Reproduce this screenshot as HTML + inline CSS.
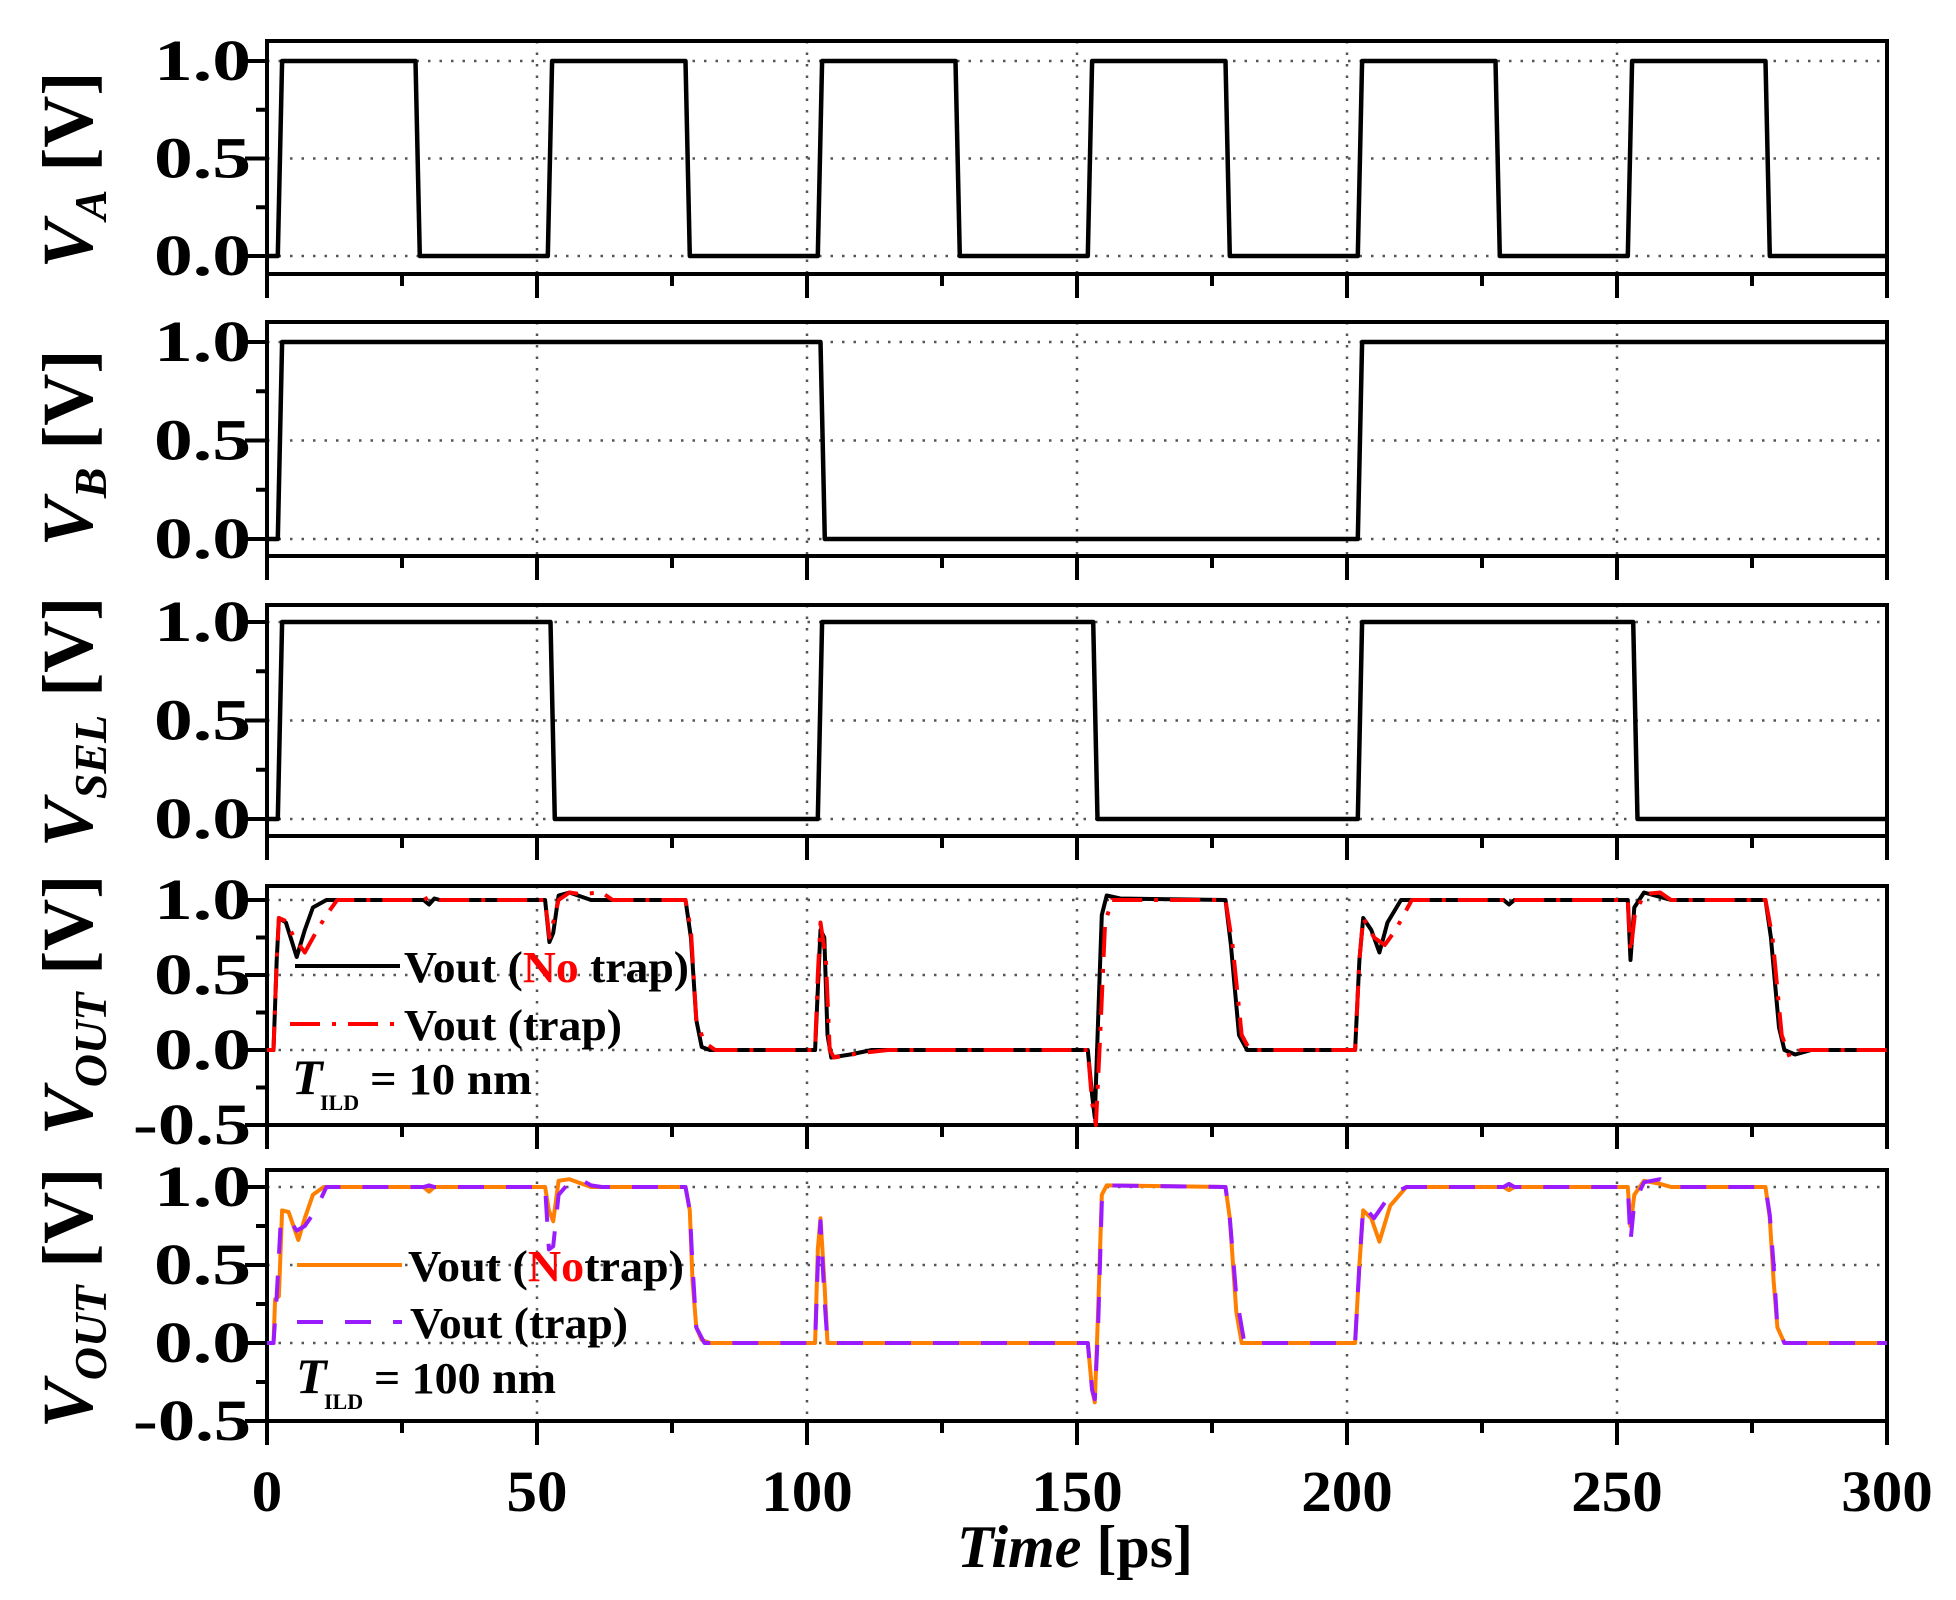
<!DOCTYPE html>
<html><head><meta charset="utf-8"><style>
html,body{margin:0;padding:0;background:#fff}
svg{display:block}
text{font-family:"Liberation Serif",serif;font-weight:bold;fill:#000}
</style></head><body>
<svg id="s" width="1956" height="1600" viewBox="0 0 1956 1600" xmlns="http://www.w3.org/2000/svg">
<g id="g"></g>
<text transform="translate(92,170) rotate(-90)" text-anchor="middle" font-size="72"><tspan font-style="italic">V</tspan><tspan font-style="italic" font-size="46" dy="14">A</tspan><tspan dy="-14"> [V]</tspan></text>
<text transform="translate(92,448) rotate(-90)" text-anchor="middle" font-size="72"><tspan font-style="italic">V</tspan><tspan font-style="italic" font-size="46" dy="14">B</tspan><tspan dy="-14"> [V]</tspan></text>
<text transform="translate(92,722) rotate(-90)" text-anchor="middle" font-size="72"><tspan font-style="italic">V</tspan><tspan font-style="italic" font-size="46" dy="14">SEL</tspan><tspan dy="-14"> [V]</tspan></text>
<text transform="translate(92,1005) rotate(-90)" text-anchor="middle" font-size="72"><tspan font-style="italic">V</tspan><tspan font-style="italic" font-size="46" dy="14">OUT</tspan><tspan dy="-14"> [V]</tspan></text>
<text transform="translate(92,1298) rotate(-90)" text-anchor="middle" font-size="72"><tspan font-style="italic">V</tspan><tspan font-style="italic" font-size="46" dy="14">OUT</tspan><tspan dy="-14"> [V]</tspan></text>
<line x1="295" y1="966" x2="400" y2="966" stroke="#000" stroke-width="4"/>
<text x="404" y="982" font-size="44" textLength="285" lengthAdjust="spacingAndGlyphs">Vout (<tspan style="fill:#ff0000">No</tspan> trap)</text>
<line x1="290" y1="1024" x2="400" y2="1024" stroke="#ff0000" stroke-width="4" stroke-dasharray="30 12 4 12"/>
<text x="404" y="1040" font-size="44" textLength="218" lengthAdjust="spacingAndGlyphs">Vout (trap)</text>
<text x="292" y="1094" font-size="50" font-style="italic">T</text>
<text x="320" y="1110" font-size="22">ILD</text>
<text x="370" y="1094" font-size="44" textLength="162" lengthAdjust="spacingAndGlyphs">= 10 nm</text>
<line x1="297" y1="1265" x2="402" y2="1265" stroke="#ff8000" stroke-width="4"/>
<text x="408" y="1281" font-size="44" textLength="276" lengthAdjust="spacingAndGlyphs">Vout (<tspan style="fill:#ff0000">No</tspan>trap)</text>
<line x1="297" y1="1322" x2="402" y2="1322" stroke="#9b1bff" stroke-width="4" stroke-dasharray="26 22"/>
<text x="410" y="1338" font-size="44" textLength="218" lengthAdjust="spacingAndGlyphs">Vout (trap)</text>
<text x="296" y="1393" font-size="50" font-style="italic">T</text>
<text x="324" y="1409" font-size="22">ILD</text>
<text x="374" y="1393" font-size="44" textLength="182" lengthAdjust="spacingAndGlyphs">= 100 nm</text>
<text x="1075" y="1567" text-anchor="middle" font-size="60"><tspan font-style="italic">Time</tspan> [ps]</text>
</svg>
<script>
var NS="http://www.w3.org/2000/svg",G=document.getElementById("g");
function el(n,a,t){var e=document.createElementNS(NS,n);for(var k in a)e.setAttribute(k,a[k]);if(t!==undefined)e.textContent=t;G.appendChild(e);return e;}
function X(t){return 267+t*5.4;}
var P=[
 {top:41,bot:274,z:256,k:195,yt:[0,0.5,1],ym:[0.25,0.75]},
 {top:322,bot:556,z:539,k:197,yt:[0,0.5,1],ym:[0.25,0.75]},
 {top:605,bot:836,z:819,k:197,yt:[0,0.5,1],ym:[0.25,0.75]},
 {top:886,bot:1125,z:1050,k:150,yt:[-0.5,0,0.5,1],ym:[-0.25,0.25,0.75]},
 {top:1170,bot:1421,z:1343,k:156,yt:[-0.5,0,0.5,1],ym:[-0.25,0.25,0.75]}
];
function lbl(v){return v<0?"-"+Math.abs(v).toFixed(1):v.toFixed(1);}
P.forEach(function(p,i){
 var L=X(0),R=X(300);
 p.yt.forEach(function(v){var y=p.z-v*p.k;if(y>p.top+3&&y<p.bot-3)el("line",{x1:L,y1:y,x2:R,y2:y,stroke:"#555","stroke-width":2.5,"stroke-dasharray":"2.5 9"});});
 for(var t=50;t<300;t+=50)el("line",{x1:X(t),y1:p.top,x2:X(t),y2:p.bot,stroke:"#555","stroke-width":2.5,"stroke-dasharray":"2.5 9"});
 p.yt.forEach(function(v){var y=p.z-v*p.k;el("line",{x1:L-22,y1:y,x2:L,y2:y,stroke:"#000","stroke-width":4});
   var s=lbl(v);var w=s.length==4?118:97;
   el("text",{x:251-w,y:y+19,"font-size":58,textLength:w,lengthAdjust:"spacingAndGlyphs"},s);});
 p.ym.forEach(function(v){var y=p.z-v*p.k;el("line",{x1:L-11,y1:y,x2:L,y2:y,stroke:"#000","stroke-width":4});});
 for(var t=0;t<=300;t+=25){var mj=t%50==0;el("line",{x1:X(t),y1:p.bot,x2:X(t),y2:p.bot+(mj?24:12),stroke:"#000","stroke-width":4});}
 el("rect",{x:L,y:p.top,width:R-L,height:p.bot-p.top,fill:"none",stroke:"#000","stroke-width":4});
});
for(var t=0;t<=300;t+=50){var s=String(t),w=s.length*30.5;el("text",{x:X(t)-w/2,y:1511,"font-size":58,textLength:w,lengthAdjust:"spacingAndGlyphs"},s);}
function path(p,pts,col,w,dash){var d="";pts.forEach(function(q,j){d+=(j?"L":"M")+X(q[0]).toFixed(1)+","+(p.z-q[1]*p.k).toFixed(1);});
 var a={d:d,fill:"none",stroke:col,"stroke-width":w,"stroke-linejoin":"round"};if(dash)a["stroke-dasharray"]=dash;el("path",a);}
function sq(r,f){var pts=[[0,0],[1.2,0]];var ev=[];r.forEach(function(t){ev.push([t,1]);});f.forEach(function(t){ev.push([t,0]);});
 ev.sort(function(a,b){return a[0]-b[0];});var v=0;
 ev.forEach(function(e){if(e[0]<2){pts=[[0,0],[0.8,0],[1.2,0.3],[1.6,0.8],[2.2,1]];v=1;return;}pts.push([e[0],v]);pts.push([e[0]+0.8,e[1]]);v=e[1];});
 pts.push([300,v]);return pts;}
path(P[0],sq([2,52,102,152,202,252],[27.5,77.5,127.5,177.5,227.5,277.5]),"#000",4.5);
path(P[1],sq([2,202],[102.5]),"#000",4.5);
path(P[2],sq([2,102,202],[52.5,153,253]),"#000",4.5);
var o1=[[0,0],[1.2,0],[1.8,0.6],[2.2,0.88],[3.5,0.85],[5.5,0.62],[7,0.8],[8.5,0.95],[11,1],[29,1],[30,0.97],[31,1.01],[32,1],[51.5,1],[52.3,0.72],[53,0.78],[54,1.03],[56,1.05],[60,1],[77.5,1],[78.5,0.75],[79.5,0.2],[80.5,0.02],[82,0],[101.5,0],[102,0.4],[102.5,0.8],[103.2,0.75],[103.8,0.1],[104.5,-0.05],[108,-0.03],[112,0],[152,0],[152.8,-0.3],[153.3,-0.45],[153.9,0.2],[154.6,0.9],[155.5,1.03],[158,1.01],[177.5,1],[178.5,0.7],[180,0.1],[181.5,0],[201.5,0],[202.3,0.6],[203,0.88],[204.5,0.8],[206,0.65],[207.5,0.85],[210,1],[229,1],[230,0.97],[231,1],[252,1],[252.5,0.6],[253.2,0.95],[255,1.05],[258,1.02],[260,1],[277.5,1],[278.5,0.75],[280,0.15],[281,0],[283,-0.03],[286,0],[300,0]];
var t1=[[0,0],[1.2,0],[1.8,0.6],[2.2,0.88],[3.5,0.86],[5,0.75],[7,0.65],[9,0.78],[11,0.9],[13,1],[29,1],[30,1.02],[32,1],[51.5,1],[52.3,0.75],[53,0.85],[54,1.0],[56,1.05],[58,1.04],[62,1.05],[64,1],[77.5,1],[78.5,0.8],[79.5,0.2],[81,0.05],[83,0],[101.5,0],[102,0.5],[102.5,0.85],[103.5,0.6],[104.2,0],[105,-0.05],[110,-0.02],[115,0],[152,0],[152.8,-0.35],[153.5,-0.5],[154.3,0.1],[155.2,0.85],[156.5,1.0],[177.5,1],[178.8,0.7],[180.5,0.1],[182,0],[201.5,0],[202.3,0.6],[203,0.88],[205,0.75],[207,0.7],[209,0.8],[212,1],[229,1],[230,1.02],[231,1],[252,1],[252.5,0.65],[253.3,0.9],[255,1.04],[258,1.05],[260,1],[277.5,1],[278.8,0.75],[280.5,0.1],[282,-0.05],[284,0],[300,0]];
path(P[3],o1,"#000",4);
path(P[3],t1,"#ff0000",4,"30 12 4 12");
var o2=[[0,0],[1.2,0],[1.5,0.28],[2.2,0.3],[2.8,0.85],[4,0.84],[5.8,0.66],[7,0.8],[8.5,0.95],[10.5,1],[29,1],[30,0.97],[31,1],[51.5,1],[52.2,0.85],[53,0.78],[54,1.04],[56,1.05],[60,1],[77.5,1],[78.3,0.85],[78.8,0.4],[79.5,0.1],[80.5,0.02],[82,0],[101.5,0],[102,0.6],[102.5,0.8],[103.2,0.4],[103.8,0],[106,0],[152,0],[152.8,-0.3],[153.3,-0.38],[153.9,0.2],[154.6,0.95],[155.5,1.01],[177.5,1],[178.3,0.8],[179.5,0.2],[180.5,0],[201.5,0],[202.3,0.5],[203,0.85],[204.5,0.8],[206,0.65],[208,0.88],[211,1],[229,1],[230,0.98],[231,1],[252,1],[252.5,0.75],[253.2,0.95],[255,1.04],[258,1.02],[260,1],[277.5,1],[278.3,0.8],[279,0.4],[279.7,0.1],[281,0],[300,0]];
var t2=[[0,0],[1.2,0],[1.8,0.3],[2.5,0.75],[4,0.8],[5.5,0.72],[7,0.75],[9,0.85],[11,1],[29,1],[30,1.01],[31,1],[51.5,1],[52.2,0.6],[53,0.62],[54,0.95],[56,1.03],[58,1.05],[60,1.01],[62,1],[77.5,1],[78.3,0.85],[78.8,0.5],[79.5,0.1],[81,0],[101.5,0],[102,0.5],[102.5,0.78],[103.2,0.3],[103.8,0],[106,0],[152,0],[152.8,-0.3],[153.3,-0.36],[153.9,0.1],[154.6,0.9],[155.5,1.01],[177.5,1],[178.3,0.8],[179.5,0.3],[181,0],[201.5,0],[202.3,0.5],[203,0.88],[205,0.8],[208,0.95],[211,1],[229,1],[230,1.02],[231,1],[252,1],[252.5,0.65],[253.2,0.9],[255,1.03],[258,1.05],[260,1],[277.5,1],[278.3,0.82],[279,0.5],[279.7,0.1],[281,0],[300,0]];
path(P[4],o2,"#ff8000",4);
path(P[4],t2,"#9b1bff",4,"26 22");
</script>
</body></html>
